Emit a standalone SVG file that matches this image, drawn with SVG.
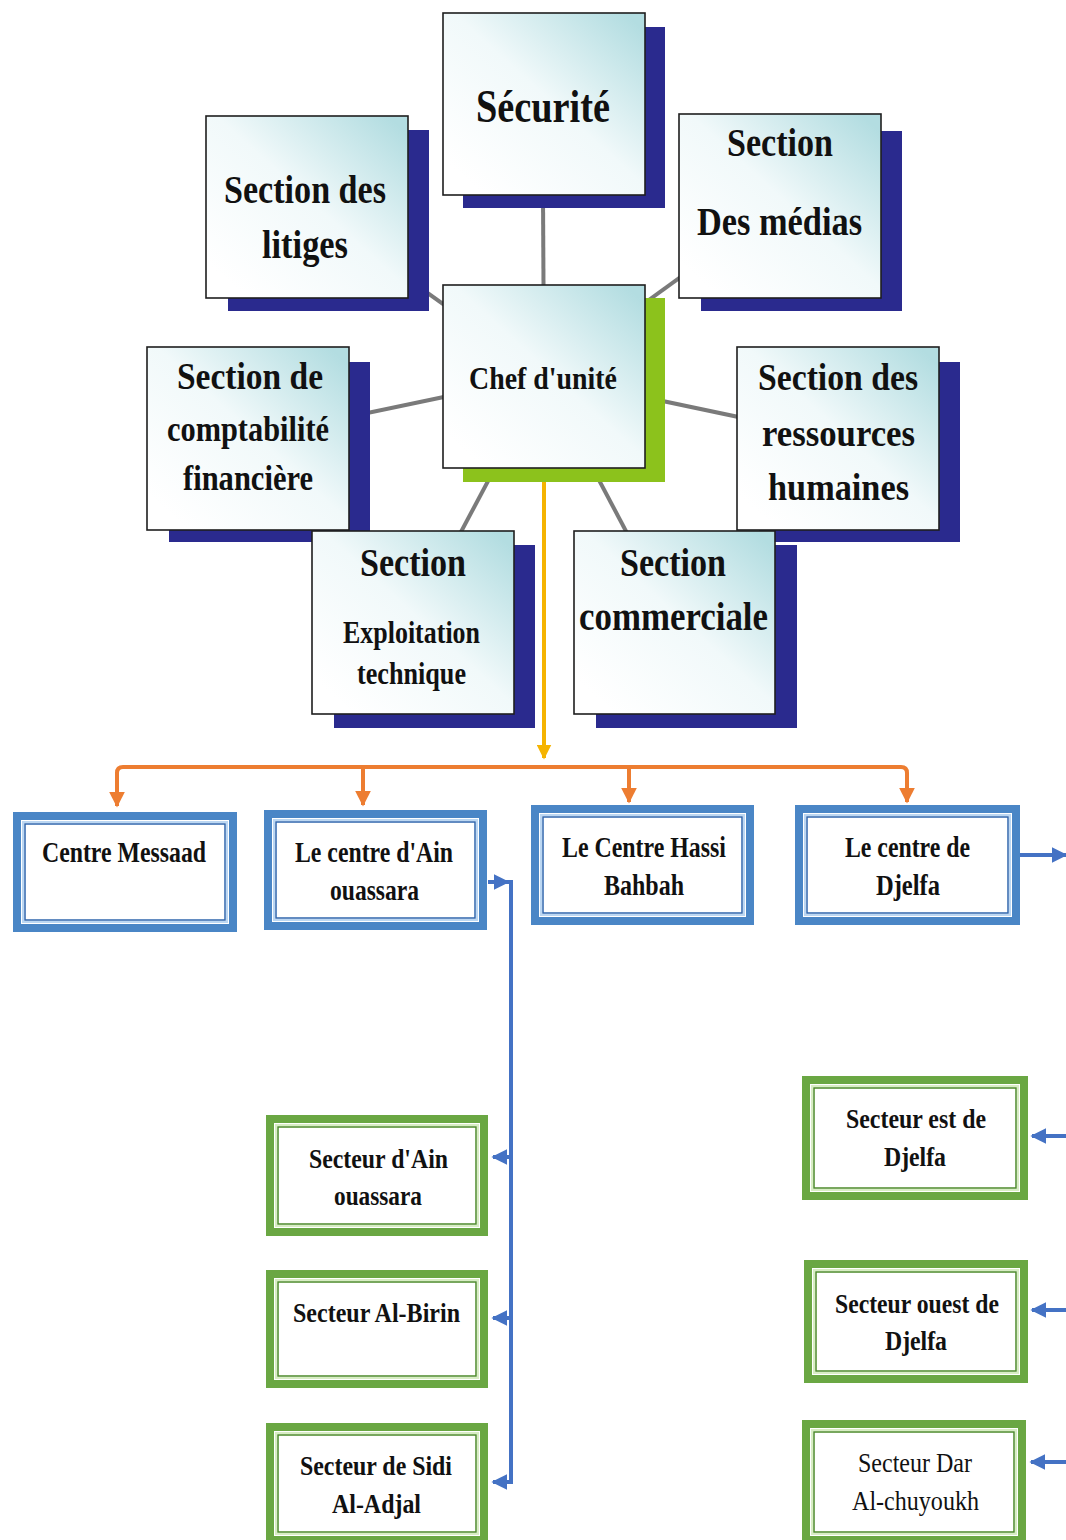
<svg xmlns="http://www.w3.org/2000/svg" width="1066" height="1540" viewBox="0 0 1066 1540">
<style>
.t{font-family:"Liberation Serif","Times New Roman",serif;font-weight:bold;fill:#111;text-anchor:start}
.r{font-weight:normal}
.box{fill:url(#grad);stroke:#1e1e1e;stroke-width:1.6}
.sh{fill:#2a2a8e}
.shg{fill:#8cc21c}
.gray{stroke:#7a7a7a;stroke-width:4;fill:none}
.ob{fill:#fff;stroke:#4a86c6;stroke-width:8}
.ib{fill:none;stroke:#2f66ad;stroke-width:1.5}
.il{fill:none;stroke:#bcd7f2;stroke-width:2}
.og{fill:#fff;stroke:#6aa743;stroke-width:8}
.ig{fill:none;stroke:#4c8a2a;stroke-width:1.5}
.ilg{fill:none;stroke:#d8edc4;stroke-width:2}
.or{stroke:#ed7d31;stroke-width:4;fill:none}
.bl{stroke:#4472c4;stroke-width:4;fill:none}
.ye{stroke:#f5b301;stroke-width:4;fill:none}
</style>
<defs>
<linearGradient id="grad" x1="0.1" y1="0.9" x2="0.95" y2="0.05">
<stop offset="0" stop-color="#ffffff"/>
<stop offset="0.5" stop-color="#f1f9fa"/>
<stop offset="1" stop-color="#b3dde1"/>
</linearGradient>
<marker id="ao" viewBox="0 0 10 10" refX="9" refY="5" markerWidth="16" markerHeight="16" markerUnits="userSpaceOnUse" orient="auto"><path d="M0,0 L10,5 L0,10 z" fill="#ed7d31"/></marker>
<marker id="ay" viewBox="0 0 10 10" refX="9" refY="5" markerWidth="15" markerHeight="15" markerUnits="userSpaceOnUse" orient="auto"><path d="M0,0 L10,5 L0,10 z" fill="#f5b301"/></marker>
<marker id="ab" viewBox="0 0 10 10" refX="9" refY="5" markerWidth="16" markerHeight="16" markerUnits="userSpaceOnUse" orient="auto"><path d="M0,0 L10,5 L0,10 z" fill="#4472c4"/></marker>
</defs>
<rect width="1066" height="1540" fill="#fff"/>

<g id="connectors">
<line class="gray" x1="544" y1="376" x2="543" y2="195"/>
<line class="gray" x1="544" y1="376" x2="307" y2="207"/>
<line class="gray" x1="544" y1="376" x2="780" y2="205"/>
<line class="gray" x1="544" y1="376" x2="248" y2="438"/>
<line class="gray" x1="544" y1="376" x2="838" y2="438"/>
<line class="gray" x1="544" y1="376" x2="413" y2="622"/>
<line class="gray" x1="544" y1="376" x2="674" y2="622"/>
<line class="ye" x1="544" y1="482" x2="544" y2="758" marker-end="url(#ay)"/>
<path class="or" d="M117,790 L117,773 Q117,767 123,767 L901,767 Q907,767 907,773 L907,790"/>
<line class="or" x1="117" y1="785" x2="117" y2="806" marker-end="url(#ao)"/>
<line class="or" x1="907" y1="785" x2="907" y2="802" marker-end="url(#ao)"/>
<line class="or" x1="363" y1="767" x2="363" y2="805" marker-end="url(#ao)"/>
<line class="or" x1="629" y1="767" x2="629" y2="802" marker-end="url(#ao)"/>
<line class="bl" x1="488" y1="882" x2="508" y2="882" marker-end="url(#ab)"/>
<path class="bl" d="M502,882 L511,882 L511,1482 L502,1482"/>
<line class="bl" x1="511" y1="1157" x2="493" y2="1157" marker-end="url(#ab)"/>
<line class="bl" x1="511" y1="1318" x2="493" y2="1318" marker-end="url(#ab)"/>
<line class="bl" x1="511" y1="1482" x2="493" y2="1482" marker-end="url(#ab)"/>
<line class="bl" x1="1020" y1="855" x2="1066" y2="855" marker-end="url(#ab)"/>
<line class="bl" x1="1066" y1="1136" x2="1032" y2="1136" marker-end="url(#ab)"/>
<line class="bl" x1="1066" y1="1310" x2="1032" y2="1310" marker-end="url(#ab)"/>
<line class="bl" x1="1066" y1="1462" x2="1031" y2="1462" marker-end="url(#ab)"/>
</g>

<g id="securite">
<rect class="sh" x="463" y="27" width="202" height="181"/>
<rect class="box" x="443" y="13" width="202" height="182"/>
<text class="t" x="476" y="122" font-size="46" textLength="134" lengthAdjust="spacingAndGlyphs">Sécurité</text>
</g>
<g id="litiges">
<rect class="sh" x="228" y="130" width="201" height="181"/>
<rect class="box" x="206" y="116" width="202" height="182"/>
<text class="t" x="224" y="203" font-size="40" textLength="162" lengthAdjust="spacingAndGlyphs">Section des</text>
<text class="t" x="262" y="258" font-size="40" textLength="86" lengthAdjust="spacingAndGlyphs">litiges</text>
</g>
<g id="medias">
<rect class="sh" x="701" y="131" width="201" height="180"/>
<rect class="box" x="679" y="114" width="202" height="184"/>
<text class="t" x="727" y="156" font-size="40" textLength="106" lengthAdjust="spacingAndGlyphs">Section</text>
<text class="t" x="697" y="235" font-size="40" textLength="165" lengthAdjust="spacingAndGlyphs">Des médias</text>
</g>
<g id="chef">
<rect class="shg" x="463" y="298" width="202" height="184"/>
<rect class="box" x="443" y="285" width="202" height="183"/>
<text class="t" x="469" y="389" font-size="31" textLength="148" lengthAdjust="spacingAndGlyphs">Chef d'unité</text>
</g>
<g id="comptabilite">
<rect class="sh" x="169" y="362" width="201" height="180"/>
<rect class="box" x="147" y="347" width="202" height="183"/>
<text class="t" x="177" y="389" font-size="38" textLength="146" lengthAdjust="spacingAndGlyphs">Section de</text>
<text class="t" x="167" y="441" font-size="36" textLength="162" lengthAdjust="spacingAndGlyphs">comptabilité</text>
<text class="t" x="183" y="490" font-size="36" textLength="130" lengthAdjust="spacingAndGlyphs">financière</text>
</g>
<g id="ressources">
<rect class="sh" x="759" y="362" width="201" height="180"/>
<rect class="box" x="737" y="347" width="202" height="183"/>
<text class="t" x="758" y="390" font-size="38" textLength="160" lengthAdjust="spacingAndGlyphs">Section des</text>
<text class="t" x="762" y="446" font-size="38" textLength="153" lengthAdjust="spacingAndGlyphs">ressources</text>
<text class="t" x="768" y="500" font-size="38" textLength="141" lengthAdjust="spacingAndGlyphs">humaines</text>
</g>
<g id="exploitation">
<rect class="sh" x="334" y="545" width="201" height="183"/>
<rect class="box" x="312" y="531" width="202" height="183"/>
<text class="t" x="360" y="576" font-size="40" textLength="106" lengthAdjust="spacingAndGlyphs">Section</text>
<text class="t" x="343" y="643" font-size="32" textLength="137" lengthAdjust="spacingAndGlyphs">Exploitation</text>
<text class="t" x="357" y="684" font-size="32" textLength="109" lengthAdjust="spacingAndGlyphs">technique</text>
</g>
<g id="commerciale">
<rect class="sh" x="596" y="545" width="201" height="183"/>
<rect class="box" x="574" y="531" width="201" height="183"/>
<text class="t" x="620" y="576" font-size="40" textLength="106" lengthAdjust="spacingAndGlyphs">Section</text>
<text class="t" x="579" y="630" font-size="40" textLength="189" lengthAdjust="spacingAndGlyphs">commerciale</text>
</g>

<g id="centre-messaad">
<rect class="ob" x="17" y="816" width="216" height="112"/>
<rect class="il" x="23" y="822" width="204" height="100"/>
<rect class="ib" x="25" y="824" width="200" height="96"/>
<text class="t" x="42" y="862" font-size="29" textLength="164" lengthAdjust="spacingAndGlyphs">Centre Messaad</text>
</g>
<g id="centre-ain-ouassara">
<rect class="ob" x="268" y="814" width="215" height="112"/>
<rect class="il" x="274" y="820" width="203" height="100"/>
<rect class="ib" x="276" y="822" width="199" height="96"/>
<text class="t" x="295" y="862" font-size="29" textLength="158" lengthAdjust="spacingAndGlyphs">Le centre d'Ain</text>
<text class="t" x="330" y="900" font-size="29" textLength="89" lengthAdjust="spacingAndGlyphs">ouassara</text>
</g>
<g id="centre-hassi-bahbah">
<rect class="ob" x="535" y="809" width="215" height="112"/>
<rect class="il" x="541" y="815" width="203" height="100"/>
<rect class="ib" x="543" y="817" width="199" height="96"/>
<text class="t" x="562" y="857" font-size="29" textLength="164" lengthAdjust="spacingAndGlyphs">Le Centre Hassi</text>
<text class="t" x="604" y="895" font-size="29" textLength="80" lengthAdjust="spacingAndGlyphs">Bahbah</text>
</g>
<g id="centre-djelfa">
<rect class="ob" x="799" y="809" width="217" height="112"/>
<rect class="il" x="805" y="815" width="205" height="100"/>
<rect class="ib" x="807" y="817" width="201" height="96"/>
<text class="t" x="845" y="857" font-size="29" textLength="125" lengthAdjust="spacingAndGlyphs">Le centre de</text>
<text class="t" x="876" y="895" font-size="29" textLength="64" lengthAdjust="spacingAndGlyphs">Djelfa</text>
</g>

<g id="secteur-ain-ouassara">
<rect class="og" x="270" y="1119" width="214" height="113"/>
<rect class="ilg" x="276" y="1125" width="202" height="101"/>
<rect class="ig" x="278" y="1127" width="198" height="97"/>
<text class="t" x="309" y="1168" font-size="28" textLength="139" lengthAdjust="spacingAndGlyphs">Secteur d'Ain</text>
<text class="t" x="334" y="1205" font-size="28" textLength="88" lengthAdjust="spacingAndGlyphs">ouassara</text>
</g>
<g id="secteur-al-birin">
<rect class="og" x="270" y="1274" width="214" height="110"/>
<rect class="ilg" x="276" y="1280" width="202" height="98"/>
<rect class="ig" x="278" y="1282" width="198" height="94"/>
<text class="t" x="293" y="1322" font-size="28" textLength="167" lengthAdjust="spacingAndGlyphs">Secteur Al-Birin</text>
</g>
<g id="secteur-sidi-al-adjal">
<rect class="og" x="270" y="1427" width="214" height="113"/>
<rect class="ilg" x="276" y="1433" width="202" height="101"/>
<rect class="ig" x="278" y="1435" width="198" height="97"/>
<text class="t" x="300" y="1475" font-size="28" textLength="152" lengthAdjust="spacingAndGlyphs">Secteur de Sidi</text>
<text class="t" x="332" y="1513" font-size="28" textLength="89" lengthAdjust="spacingAndGlyphs">Al-Adjal</text>
</g>
<g id="secteur-est-djelfa">
<rect class="og" x="806" y="1080" width="218" height="116"/>
<rect class="ilg" x="812" y="1086" width="206" height="104"/>
<rect class="ig" x="814" y="1088" width="202" height="100"/>
<text class="t" x="846" y="1128" font-size="28" textLength="140" lengthAdjust="spacingAndGlyphs">Secteur est de</text>
<text class="t" x="884" y="1166" font-size="28" textLength="62" lengthAdjust="spacingAndGlyphs">Djelfa</text>
</g>
<g id="secteur-ouest-djelfa">
<rect class="og" x="808" y="1264" width="216" height="115"/>
<rect class="ilg" x="814" y="1270" width="204" height="103"/>
<rect class="ig" x="816" y="1272" width="200" height="99"/>
<text class="t" x="835" y="1313" font-size="28" textLength="164" lengthAdjust="spacingAndGlyphs">Secteur ouest de</text>
<text class="t" x="885" y="1350" font-size="28" textLength="62" lengthAdjust="spacingAndGlyphs">Djelfa</text>
</g>
<g id="secteur-dar-al-chuyoukh">
<rect class="og" x="806" y="1424" width="216" height="116"/>
<rect class="ilg" x="812" y="1430" width="204" height="104"/>
<rect class="ig" x="814" y="1432" width="200" height="100"/>
<text class="t r" x="858" y="1472" font-size="28" textLength="114" lengthAdjust="spacingAndGlyphs">Secteur Dar</text>
<text class="t r" x="852" y="1510" font-size="28" textLength="127" lengthAdjust="spacingAndGlyphs">Al-chuyoukh</text>
</g>
</svg>
